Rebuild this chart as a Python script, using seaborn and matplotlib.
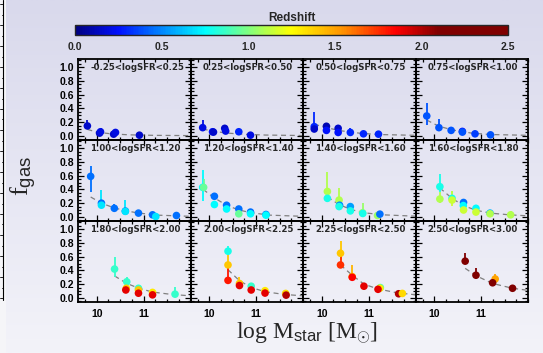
import numpy as np
import pandas as pd
import matplotlib
matplotlib.use("Agg")
import matplotlib.pyplot as plt
import matplotlib.colors as mcolors
from matplotlib.lines import Line2D
from matplotlib.ticker import MultipleLocator, FormatStrFormatter
import seaborn as sns

# ---- panel titles (SFR bins) ----
panel_labels = [
    "-0.25<logSFR<0.25", "0.25<logSFR<0.50", "0.50<logSFR<0.75", "0.75<logSFR<1.00",
    "1.00<logSFR<1.20", "1.20<logSFR<1.40", "1.40<logSFR<1.60", "1.60<logSFR<1.80",
    "1.80<logSFR<2.00", "2.00<logSFR<2.25", "2.25<logSFR<2.50", "2.50<logSFR<3.00",
]

# ---- measured points: panel index, log M*, f_gas, lower / upper error, redshift ----
pt_panel = [0, 0, 0, 0, 0, 0,
            1, 1, 1, 1, 1, 1, 1,
            2, 2, 2, 2, 2, 2, 2, 2, 2,
            3, 3, 3, 3, 3, 3, 3,
            4, 4, 4, 4, 4, 4, 4, 4, 4, 4,
            5, 5, 5, 5, 5, 5, 5, 5, 5, 5, 5, 5,
            6, 6, 6, 6, 6, 6, 6, 6, 6, 6, 6,
            7, 7, 7, 7, 7, 7, 7, 7, 7, 7, 7, 7,
            8, 8, 8, 8, 8, 8, 8, 8, 8, 8,
            9, 9, 9, 9, 9, 9, 9, 9, 9, 9, 9,
            10, 10, 10, 10, 10, 10, 10, 10, 10, 10,
            11, 11, 11, 11, 11]
pt_logm = [9.80, 10.06, 10.08, 10.36, 10.40, 10.91,
           9.86, 10.07, 10.09, 10.33, 10.35, 10.63, 10.88,
           9.84, 9.84, 10.10, 10.10, 10.35, 10.35, 10.61, 10.89, 11.21,
           9.84, 10.10, 10.36, 10.60, 10.60, 10.87, 11.20,
           9.87, 10.10, 10.10, 10.375, 10.61, 10.61, 10.89, 11.19, 11.26, 11.70,
           9.86, 9.88, 10.11, 10.11, 10.37, 10.37, 10.63, 10.63, 10.88, 10.88, 11.21, 11.21,
           10.12, 10.12, 10.37, 10.38, 10.37, 10.61, 10.61, 10.87, 10.875, 11.19, 11.24,
           10.12, 10.12, 10.38, 10.38, 10.625, 10.62, 10.625, 10.89, 10.89, 11.19, 11.19, 11.63,
           10.38, 10.64, 10.63, 10.62, 10.89, 10.89, 10.89, 11.19, 11.19, 11.67,
           10.40, 10.40, 10.40, 10.645, 10.645, 10.895, 10.895, 11.19, 11.19, 11.63, 11.64,
           10.40, 10.40, 10.65, 10.65, 10.90, 11.25, 11.24, 11.20, 11.64, 11.72,
           10.66, 10.89, 11.30, 11.245, 11.67]
pt_fgas = [0.145, 0.04, 0.06, 0.025, 0.05, 0.01,
           0.12, 0.06, 0.055, 0.11, 0.07, 0.06, 0.01,
           0.135, 0.10, 0.14, 0.08, 0.11, 0.05, 0.05, 0.03, 0.025,
           0.29, 0.12, 0.08, 0.065, 0.055, 0.03, 0.015,
           0.59, 0.20, 0.17, 0.125, 0.085, 0.08, 0.055, 0.03, 0.005, 0.02,
           0.43, 0.43, 0.30, 0.18, 0.17, 0.115, 0.115, 0.045, 0.07, 0.045, 0.035, 0.025,
           0.37, 0.27, 0.245, 0.17, 0.15, 0.15, 0.087, 0.06, 0.05, 0.02, 0.04,
           0.44, 0.26, 0.27, 0.245, 0.21, 0.165, 0.10, 0.125, 0.07, 0.055, 0.045, 0.03,
           0.42, 0.235, 0.14, 0.115, 0.14, 0.115, 0.068, 0.08, 0.044, 0.054,
           0.68, 0.48, 0.255, 0.21, 0.18, 0.17, 0.115, 0.105, 0.07, 0.065, 0.04,
           0.65, 0.48, 0.31, 0.30, 0.17, 0.15, 0.14, 0.125, 0.06, 0.065,
           0.535, 0.33, 0.275, 0.22, 0.14]
pt_err_lo = [0.04, 0.02, 0.02, 0.01, 0.01, 0.01,
             0.03, 0.02, 0.01, 0.02, 0.02, 0.01, 0.01,
             0.03, 0.02, 0.02, 0.02, 0.02, 0.02, 0.01, 0.01, 0.01,
             0.13, 0.03, 0.02, 0.01, 0.01, 0.01, 0.01,
             0.23, 0.03, 0.03, 0.02, 0.02, 0.02, 0.01, 0.01, 0.01, 0.01,
             0.20, 0.05, 0.03, 0.03, 0.02, 0.02, 0.02, 0.02, 0.01, 0.01, 0.01, 0.01,
             0.10, 0.05, 0.04, 0.02, 0.02, 0.02, 0.02, 0.01, 0.01, 0.01, 0.01,
             0.08, 0.06, 0.04, 0.08, 0.02, 0.02, 0.02, 0.02, 0.01, 0.01, 0.01, 0.01,
             0.12, 0.03, 0.02, 0.02, 0.02, 0.02, 0.02, 0.01, 0.01, 0.02,
             0.05, 0.08, 0.03, 0.02, 0.02, 0.02, 0.02, 0.01, 0.01, 0.01, 0.01,
             0.10, 0.05, 0.05, 0.03, 0.02, 0.02, 0.02, 0.02, 0.01, 0.01,
             0.03, 0.03, 0.03, 0.02, 0.02]
pt_err_hi = [0.09, 0.03, 0.06, 0.02, 0.02, 0.01,
             0.11, 0.04, 0.02, 0.03, 0.02, 0.02, 0.01,
             0.22, 0.03, 0.03, 0.02, 0.03, 0.02, 0.07, 0.01, 0.01,
             0.19, 0.12, 0.02, 0.02, 0.02, 0.01, 0.01,
             0.15, 0.05, 0.22, 0.065, 0.03, 0.17, 0.02, 0.02, 0.01, 0.01,
             0.25, 0.12, 0.05, 0.04, 0.03, 0.02, 0.03, 0.08, 0.02, 0.02, 0.01, 0.01,
             0.29, 0.08, 0.17, 0.04, 0.03, 0.04, 0.02, 0.14, 0.02, 0.01, 0.01,
             0.18, 0.10, 0.11, 0.13, 0.04, 0.03, 0.03, 0.02, 0.02, 0.02, 0.01, 0.05,
             0.18, 0.07, 0.06, 0.09, 0.02, 0.03, 0.02, 0.01, 0.01, 0.10,
             0.07, 0.20, 0.22, 0.10, 0.03, 0.02, 0.02, 0.02, 0.01, 0.01, 0.01,
             0.18, 0.17, 0.17, 0.05, 0.02, 0.02, 0.02, 0.02, 0.01, 0.01,
             0.125, 0.11, 0.075, 0.03, 0.02]
pt_z = [0.15, 0.15, 0.20, 0.15, 0.20, 0.15,
        0.20, 0.25, 0.15, 0.15, 0.20, 0.30, 0.20,
        0.30, 0.15, 0.10, 0.25, 0.15, 0.25, 0.30, 0.30, 0.30,
        0.40, 0.40, 0.40, 0.25, 0.40, 0.35, 0.40,
        0.45, 0.45, 0.70, 0.45, 0.45, 0.70, 0.45, 0.45, 0.70, 0.45,
        0.75, 0.95, 0.45, 0.75, 0.45, 0.75, 0.45, 0.95, 0.45, 0.75, 0.45, 0.75,
        1.10, 0.80, 1.10, 0.50, 0.80, 0.55, 0.80, 1.05, 0.80, 1.05, 0.45,
        0.80, 1.10, 0.80, 1.15, 0.45, 0.75, 1.15, 0.75, 1.15, 0.60, 1.10, 1.10,
        0.85, 0.85, 1.40, 1.90, 0.85, 1.40, 1.90, 1.30, 1.90, 0.85,
        0.80, 1.40, 1.80, 1.40, 1.90, 0.85, 1.90, 1.30, 1.90, 1.35, 2.00,
        1.40, 1.75, 1.45, 1.85, 1.90, 0.90, 1.30, 1.90, 2.00, 1.35,
        2.10, 2.10, 1.50, 2.10, 2.10]

# ---- model curves (dashed), sampled per panel ----
crv_panel = ([0] * 6 + [1] * 6 + [2] * 6 + [3] * 6 + [4] * 7 + [5] * 7 +
             [6] * 6 + [7] * 7 + [8] * 6 + [9] * 6 + [10] * 6 + [11] * 5)
crv_logm = [9.80, 10.0, 10.3, 10.7, 11.2, 12.0,
            9.86, 10.1, 10.4, 10.7, 11.2, 12.0,
            9.84, 10.1, 10.4, 10.8, 11.2, 12.0,
            9.84, 10.1, 10.4, 10.8, 11.2, 12.0,
            9.87, 10.1, 10.375, 10.65, 10.9, 11.3, 12.0,
            9.87, 10.1, 10.37, 10.63, 10.9, 11.3, 12.0,
            10.12, 10.37, 10.61, 10.9, 11.3, 12.0,
            10.12, 10.38, 10.62, 10.9, 11.2, 11.6, 12.0,
            10.38, 10.64, 10.9, 11.19, 11.6, 12.0,
            10.40, 10.645, 10.9, 11.19, 11.6, 12.0,
            10.40, 10.65, 10.9, 11.2, 11.6, 12.0,
            10.66, 10.9, 11.245, 11.67, 12.0]
crv_fgas = [0.095, 0.055, 0.03, 0.015, 0.008, 0.004,
            0.10, 0.065, 0.04, 0.025, 0.012, 0.005,
            0.17, 0.12, 0.075, 0.04, 0.02, 0.008,
            0.23, 0.14, 0.085, 0.04, 0.02, 0.008,
            0.29, 0.20, 0.13, 0.085, 0.055, 0.025, 0.008,
            0.40, 0.28, 0.17, 0.10, 0.06, 0.025, 0.008,
            0.29, 0.18, 0.11, 0.06, 0.03, 0.01,
            0.42, 0.27, 0.165, 0.095, 0.055, 0.03, 0.015,
            0.32, 0.21, 0.14, 0.085, 0.05, 0.03,
            0.41, 0.25, 0.15, 0.09, 0.05, 0.03,
            0.48, 0.33, 0.20, 0.13, 0.075, 0.045,
            0.43, 0.32, 0.21, 0.14, 0.11]

# colour bar range and ticks
z_min, z_max = 0.0, 2.5
cbar_ticks = [0.0, 0.5, 1.0, 1.5, 2.0, 2.5]
x_ticks = [10, 11]
y_ticks = [0.0, 0.2, 0.4, 0.6, 0.8, 1.0]

points = pd.DataFrame({"panel": pt_panel, "logm": pt_logm, "fgas": pt_fgas,
                       "elo": pt_err_lo, "ehi": pt_err_hi, "z": pt_z})
curves = pd.DataFrame({"panel": crv_panel, "logm": crv_logm, "fgas": crv_fgas})

# ---- styling ----
sns.set_style("ticks")
plt.rcParams["font.family"] = ["Liberation Sans", "DejaVu Sans"]
plt.rcParams["mathtext.fontset"] = "custom"
plt.rcParams["mathtext.rm"] = "Liberation Serif"
plt.rcParams["mathtext.sf"] = "Liberation Sans"
plt.rcParams["mathtext.it"] = "Liberation Serif:italic"

cmap = mcolors.LinearSegmentedColormap.from_list(
    "rainbow_z",
    [(0.0, "#00007f"), (0.10, "#0010ff"), (0.30, "#00ffff"), (0.50, "#ffff00"),
     (0.62, "#ff9000"), (0.74, "#ff0000"), (0.84, "#800000"), (1.0, "#800000")])
norm = mcolors.Normalize(vmin=z_min, vmax=z_max)

W, H = 543, 353
fig = plt.figure(figsize=(W / 100, H / 100), dpi=100)

# soft lavender background
bg = fig.add_axes([0, 0, 1, 1], zorder=-10)
grad = np.linspace(0, 1, 256)[:, None]
bg_cmap = mcolors.LinearSegmentedColormap.from_list("bg", ["#d9d9ec", "#e6e6f3", "#f3f3f9"])
bg.imshow(grad, aspect="auto", cmap=bg_cmap, extent=[0, 1, 0, 1], origin="upper")
bg.add_patch(plt.Rectangle((0, 0), 6 / W, 1, color="#f5f5f8", lw=0))
bg.add_line(Line2D([3 / W, 3 / W], [1 - 300 / H, 1], color="black", lw=0.8))
for k, yy in enumerate(np.arange(4, 300, 10.5)):
    ln = 3 if k % 2 == 0 else 1.5
    bg.add_line(Line2D([(3 - ln) / W, 3 / W], [1 - yy / H, 1 - yy / H], color="black", lw=0.6))
bg.set_xlim(0, 1)
bg.set_ylim(0, 1)
bg.axis("off")

gs = fig.add_gridspec(3, 4, left=78 / W, right=528 / W, top=1 - 59 / H, bottom=1 - 302 / H,
                      wspace=0, hspace=0)

for i, label in enumerate(panel_labels):
    r, c = divmod(i, 4)
    ax = fig.add_subplot(gs[r, c])
    ax.set_facecolor("none")

    cv = curves[curves.panel == i]
    sns.lineplot(data=cv, x="logm", y="fgas", sort=False, estimator=None, ax=ax,
                 color="#808080", lw=0.9, zorder=2)
    ax.lines[-1].set_dashes([4, 3])

    pts = points[points.panel == i]
    cols = cmap(norm(pts.z.values))
    ax.vlines(pts.logm, pts.fgas - pts.elo, pts.fgas + pts.ehi, colors=cols, lw=1.3, zorder=3)
    sns.scatterplot(data=pts, x="logm", y="fgas", hue="z", palette=cmap, hue_norm=norm,
                    s=30, edgecolor="none", linewidth=0, legend=False, ax=ax, zorder=4)

    ax.set_xlim(9.6, 12.0)
    ax.set_ylim(-0.06, 1.12)
    ax.set_xlabel("")
    ax.set_ylabel("")
    ax.xaxis.set_major_locator(plt.FixedLocator(x_ticks))
    ax.xaxis.set_minor_locator(MultipleLocator(0.25))
    ax.yaxis.set_major_locator(plt.FixedLocator(y_ticks))
    ax.yaxis.set_minor_locator(MultipleLocator(0.05))
    ax.yaxis.set_major_formatter(FormatStrFormatter("%.1f"))
    ax.tick_params(which="both", direction="in", top=True, right=True, width=0.9,
                   labelsize=7.5, pad=3, colors="black")
    ax.tick_params(which="major", length=4.5)
    ax.tick_params(which="minor", length=2.3)
    for t in ax.get_xticklabels() + ax.get_yticklabels():
        t.set_fontweight("bold")
    if c != 0:
        ax.tick_params(labelleft=False)
    if r != 2:
        ax.tick_params(labelbottom=False)
    else:
        ax.tick_params(axis="x", pad=5)
    for sp in ax.spines.values():
        sp.set_linewidth(1.3)
        sp.set_color("black")
    ax.text(0.11, 0.895, label, transform=ax.transAxes, fontsize=6.2, fontweight="bold",
            family="DejaVu Sans", ha="left", va="center", zorder=6)

# colour bar
cax = fig.add_axes([75 / W, 1 - 35 / H, 433 / W, 10 / H])
sm = plt.cm.ScalarMappable(norm=norm, cmap=cmap)
cb = fig.colorbar(sm, cax=cax, orientation="horizontal")
cb.set_ticks(cbar_ticks)
cb.ax.xaxis.set_major_formatter(FormatStrFormatter("%.1f"))
cb.ax.xaxis.set_minor_locator(MultipleLocator(0.25))
cb.ax.tick_params(which="both", direction="in", top=True, length=2.5, width=0.7,
                  labelsize=7.5, pad=5)
for t in cb.ax.get_xticklabels():
    t.set_fontweight("bold")
cb.outline.set_linewidth(1.0)
cb.ax.set_title("Redshift", fontsize=8.5, pad=3, fontweight="bold")

# axis titles
fig.text(24 / W, 1 - 176 / H, r"f$_{\mathsf{gas}}$", rotation=90, ha="center", va="center",
         fontsize=19, family="Liberation Serif")
fig.text(307 / W, 1 - 333 / H, r"log M$_{\mathsf{star}}$ [M$_{\odot}$]", ha="center",
         va="center", fontsize=17, family="Liberation Serif")

fig.savefig("out.png", dpi=100)
